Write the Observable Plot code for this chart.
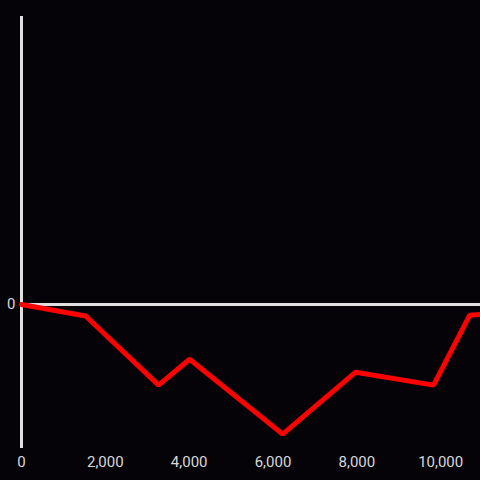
<!DOCTYPE html>
<html>
<head>
<meta charset="utf-8">
<script src="https://cdn.jsdelivr.net/npm/d3@7"></script>
<script src="https://cdn.jsdelivr.net/npm/@observablehq/plot@0.6"></script>
<style>
  html, body { margin: 0; padding: 0; background: #050307; }
  #chart svg { display: block; }
</style>
</head>
<body>
<div id="chart"></div>
<script>
const xValues = [0, 1530, 3270, 4010, 6230, 7970, 9830, 10690, 10950];
const yValues = [0, -8, -56, -38, -90, -47, -56, -7.5, -7];
const xTicks = [0, 2000, 4000, 6000, 8000, 10000];
const yTicks = [0];

const data = xValues.map((x, i) => ({x, y: yValues[i]}));

const chart = Plot.plot({
  width: 480,
  height: 480,
  marginTop: 16,
  marginBottom: 32,
  marginLeft: 21,
  marginRight: 0,
  style: {background: "#050307", color: "#d8d8d8", fontFamily: "Roboto, 'Noto Sans', sans-serif", fontSize: "15px"},
  x: {domain: [0, 10950], ticks: xTicks, tickFormat: d3.format(","), tickSize: 0, tickPadding: 8, label: null},
  y: {domain: [-100, 200], ticks: yTicks, tickSize: 0, tickPadding: 6, label: null},
  marks: [
    Plot.ruleY([0], {stroke: "#e0e0e0", strokeWidth: 3}),
    Plot.ruleX([0], {stroke: "#e0e0e0", strokeWidth: 3}),
    Plot.line(data, {x: "x", y: "y", stroke: "#ff0000", strokeWidth: 5, strokeLinejoin: "miter"}),
    Plot.axisX({ticks: xTicks, tickFormat: d3.format(","), tickSize: 0, tickPadding: 8, fill: "#d8d8d8", fontSize: 15}),
    Plot.axisY({ticks: yTicks, tickSize: 0, tickPadding: 6, fill: "#d8d8d8", fontSize: 15})
  ]
});
document.getElementById("chart").appendChild(chart);
</script>
</body>
</html>
